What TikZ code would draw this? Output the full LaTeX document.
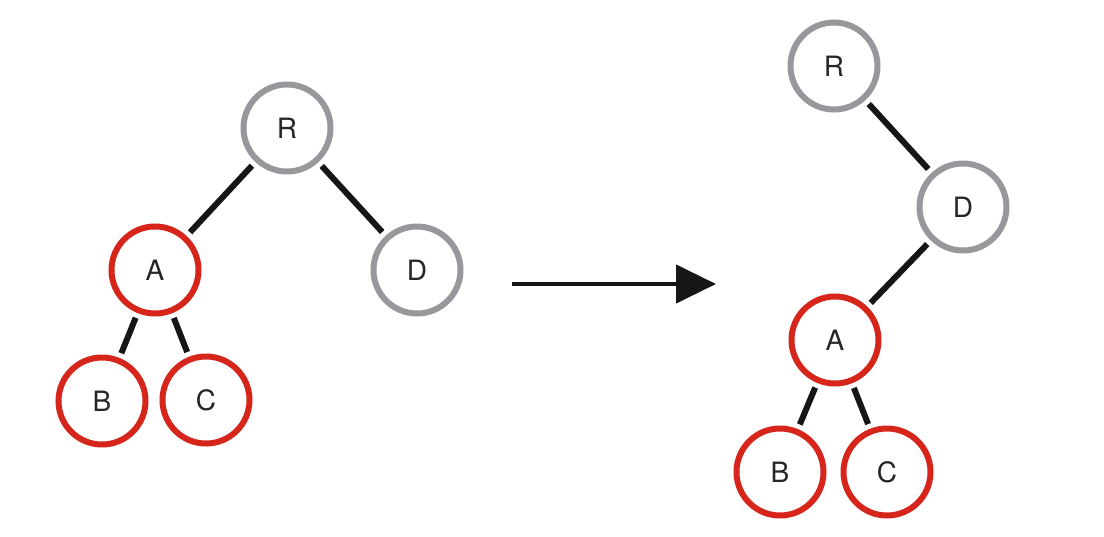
\documentclass[tikz,border=0pt]{standalone}
\usepackage{fontspec}
\setmainfont{TeX Gyre Heros}
\usetikzlibrary{arrows.meta}
\definecolor{nodered}{RGB}{214,38,28}
\definecolor{nodegray}{RGB}{152,152,156}
\definecolor{inkblack}{RGB}{22,22,22}
\tikzset{
  tnode/.style={circle, minimum size=87pt, inner sep=0pt, line width=6pt, fill=white,
    font=\fontsize{28}{32}\selectfont, text=black!85},
  rednode/.style={tnode, draw=nodered},
  graynode/.style={tnode, draw=nodegray},
  edge/.style={draw=inkblack, line width=6pt, shorten >=5pt, shorten <=5pt},
  bigarrow/.style={draw=inkblack, line width=4.5pt, -{Triangle[length=40pt,width=38pt]}}
}
\begin{document}
\begin{tikzpicture}[x=1pt,y=-1pt]
\useasboundingbox (0,0) rectangle (1104,536);
% left tree
\node[graynode] (R1) at (287,128) {R};
\node[rednode]  (A1) at (155,270) {A};
\node[graynode] (D1) at (417,270) {D};
\node[rednode]  (B1) at (102,401) {B};
\node[rednode]  (C1) at (206,400) {C};
\draw[edge] (R1) -- (A1);
\draw[edge] (R1) -- (D1);
\draw[edge] (A1) -- (B1);
\draw[edge] (A1) -- (C1);
% arrow
\coordinate (s) at (512,284);
\coordinate (e) at (716,284);
\draw[bigarrow] (s) -- (e);
% right tree
\node[graynode] (R2) at (834,66) {R};
\node[graynode] (D2) at (963,207) {D};
\node[rednode]  (A2) at (835,340) {A};
\node[rednode]  (B2) at (780,472) {B};
\node[rednode]  (C2) at (887,472) {C};
\draw[edge] (R2) -- (D2);
\draw[edge] (D2) -- (A2);
\draw[edge] (A2) -- (B2);
\draw[edge] (A2) -- (C2);
\end{tikzpicture}
\end{document}
